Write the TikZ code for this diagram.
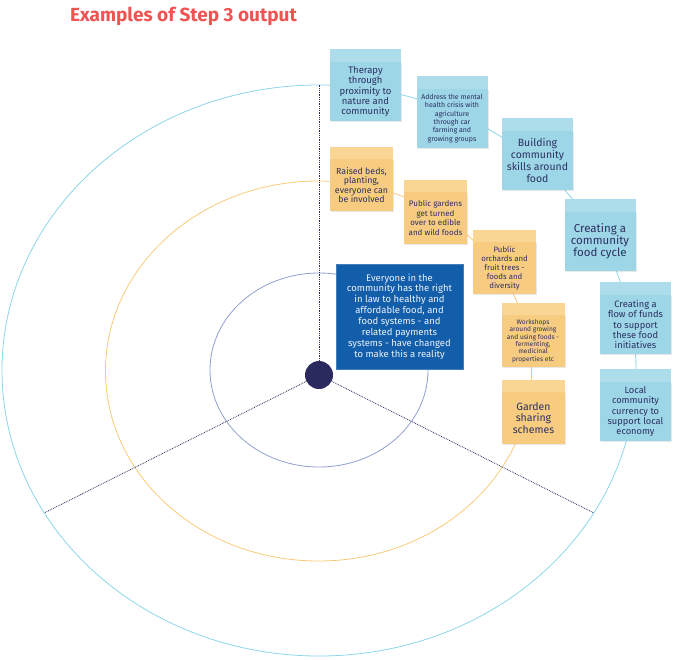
\documentclass[tikz,border=0pt]{standalone}
\usepackage{fontspec}
\setmainfont{Fira Sans}
\usetikzlibrary{shadows}
\definecolor{titlered}{RGB}{239,83,82}
\definecolor{notetext}{RGB}{43,48,96}
\definecolor{noteblue}{RGB}{157,214,231}
\definecolor{stripblue}{RGB}{173,220,234}
\definecolor{noteorange}{RGB}{248,204,128}
\definecolor{striporange}{RGB}{249,214,148}
\definecolor{visionblue}{RGB}{19,94,170}
\definecolor{hubnavy}{RGB}{43,42,94}
\definecolor{ringcyan}{RGB}{140,214,232}
\definecolor{ringorange}{RGB}{248,202,122}
\definecolor{ringinner}{RGB}{143,160,208}

\begin{document}
\begin{tikzpicture}[x=1pt,y=-1pt,
	note/.style={inner sep=1pt, outer sep=0pt, align=center, text=notetext,
		drop shadow={shadow xshift=1pt, shadow yshift=-1.3pt, opacity=0.18}},
	bluenote/.style={note, fill=noteblue, minimum width=71pt, minimum height=59pt,
		label={[bluestrip]north:{}}},
	bluestrip/.style={fill=stripblue, minimum width=71pt, minimum height=13pt, inner sep=0pt, outer sep=0pt},
	orangenote/.style={note, fill=noteorange, minimum width=63pt, minimum height=52pt,
		label={[orangestrip]north:{}}},
	orangestrip/.style={fill=striporange, minimum width=63pt, minimum height=12pt, inner sep=0pt, outer sep=0pt},
	spoke/.style={hubnavy, densely dotted, line width=0.8pt}]
	\useasboundingbox (0,0) rectangle (674,659);
	
	% rings
	\draw[ringcyan, line width=0.8pt] (319,370.5) ellipse [x radius=317, y radius=285.5];
	\draw[ringorange, line width=0.8pt] (318.5,371) ellipse [x radius=213, y radius=190];
	\draw[ringinner, line width=0.8pt] (319,370) ellipse [x radius=109, y radius=97];
	
	% spokes
	\node[circle, fill=hubnavy, minimum size=28pt, inner sep=0pt] (hub) at (319,375) {};
	\coordinate (spoke-top) at (319,85);
	\coordinate (spoke-left) at (44,513);
	\coordinate (spoke-right) at (594,513);
	\draw[spoke] (hub) -- (spoke-top);
	\draw[spoke] (hub) -- (spoke-left);
	\draw[spoke] (hub) -- (spoke-right);
	
	% outer ring notes
	\node[bluenote, font=\fontsize{9.5}{10.3}\selectfont] (therapy) at (365.5,91.5) {Therapy\\through\\proximity to\\nature and\\community};
	\node[bluenote, font=\fontsize{7}{8.3}\selectfont] (mental) at (452,118.5) {Address the mental\\health crisis with\\agriculture\\through car\\farming and\\growing groups};
	\node[bluenote, font=\fontsize{10.5}{11.9}\selectfont] (skills) at (537.5,160.5) {Building\\community\\skills around\\food};
	\node[bluenote, font=\fontsize{11.5}{12.2}\selectfont] (cycle) at (600,241.5) {Creating a\\community\\food cycle};
	\node[bluenote, font=\fontsize{9.3}{10.4}\selectfont] (funds) at (635.5,324.5) {Creating a\\flow of funds\\to support\\these food\\initiatives};
	\node[bluenote, font=\fontsize{9.3}{10.3}\selectfont] (currency) at (635.5,411.5) {Local\\community\\currency to\\support local\\economy};
	
	% middle ring notes
	\node[orangenote, font=\fontsize{8.8}{9.4}\selectfont] (beds) at (361.5,185) {Raised beds,\\planting,\\everyone can\\be involved};
	\node[orangenote, font=\fontsize{8}{9.5}\selectfont] (gardens) at (435.5,218) {Public gardens\\get turned\\over to edible\\and wild foods};
	\node[orangenote, font=\fontsize{7.8}{8.9}\selectfont] (orchards) at (504.5,268) {Public\\orchards and\\fruit trees -\\foods and\\diversity};
	\node[orangenote, font=\fontsize{6.6}{7.4}\selectfont] (workshops) at (533,341) {Workshops\\around growing\\and using foods -\\fermenting,\\medicinal\\properties etc};
	\node[orangenote, font=\fontsize{10.5}{11.6}\selectfont] (sharing) at (533.5,418) {Garden\\sharing\\schemes};
	
	% vision
	\node[fill=visionblue, draw=visionblue!80!white, line width=0.6pt, minimum width=127pt, minimum height=105pt,
		inner sep=1pt, align=center, text=white!92!visionblue, font=\fontsize{9.5}{10.9}\selectfont] (vision) at (399.5,316.5)
		{Everyone in the\\community has the right\\in law to healthy and\\affordable food, and\\food systems - and\\related payments\\systems - have changed\\to make this a reality};
	
	\node[anchor=base west, inner sep=0pt, text=titlered, font=\fontsize{19}{21}\selectfont\bfseries] (title) at (70,21) {Examples of Step 3 output};
\end{tikzpicture}
\end{document}
